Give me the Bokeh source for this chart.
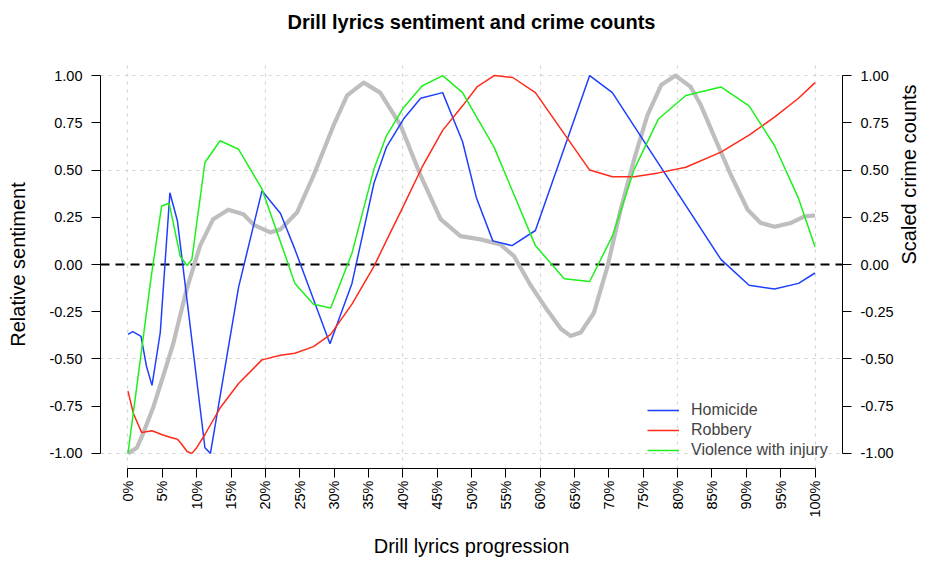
from math import pi
from bokeh.plotting import figure
from bokeh.models import Range1d, LinearAxis, FixedTicker, Grid, Span, Legend, LegendItem, Title
from bokeh.embed import file_html
from bokeh.resources import INLINE

# ---------------- data ----------------
sentiment_x = [0, 1.3, 2.2, 3.7, 5.1, 6.6, 8.55, 10.5, 12.4, 14.6, 16.8, 18.3, 20.7, 22.2,
               24.6, 27.0, 29.9, 31.9, 34.3, 36.7, 39.7, 42.6, 45.5, 48.4, 51.3, 54.2,
               56.2, 58.6, 61.0, 63.0, 64.4, 65.9, 67.8, 69.8, 71.7, 73.7, 75.6, 77.6,
               79.7, 81.9, 83.3, 85.3, 87.8, 90.2, 92.1, 94.1, 96.5, 98.4, 100]
sentiment_y = [-1.0, -0.97, -0.895, -0.754, -0.594, -0.417, -0.13, 0.10, 0.24, 0.29, 0.266,
               0.21, 0.17, 0.186, 0.275, 0.47, 0.735, 0.895, 0.963, 0.91, 0.735, 0.47,
               0.24, 0.15, 0.133, 0.106, 0.044, -0.11, -0.24, -0.34, -0.378, -0.36,
               -0.257, -0.01, 0.29, 0.56, 0.79, 0.95, 1.0, 0.94, 0.85, 0.68, 0.47, 0.29,
               0.22, 0.20, 0.22, 0.254, 0.26]

homicide_x = [0, 0.7, 1.9, 2.7, 3.5, 4.7, 6.1, 7.2, 11.2, 12.0, 16.1, 19.5, 22.2, 24.3,
              29.4, 32.6, 35.8, 37.6, 40.1, 42.6, 45.8, 48.7, 50.7, 53.1, 55.9, 59.3,
              67.2, 70.5, 86.3, 90.4, 94.1, 97.6, 100]
homicide_y = [-0.37, -0.355, -0.38, -0.54, -0.64, -0.36, 0.38, 0.23, -0.97, -1.0, -0.12,
              0.39, 0.27, 0.08, -0.42, -0.10, 0.43, 0.62, 0.77, 0.88, 0.91, 0.65, 0.355,
              0.125, 0.10, 0.18, 1.0, 0.91, 0.027, -0.11, -0.13, -0.10, -0.045]

robbery_x = [0, 0.8, 2.0, 3.5, 4.9, 6.1, 7.2, 7.8, 8.6, 9.3, 10.0, 11.2, 13.4, 16.1, 19.5,
             22.2, 24.3, 27.0, 29.5, 32.6, 35.8, 37.6, 40.1, 42.8, 45.8, 48.7, 50.8,
             53.3, 56.0, 59.3, 67.2, 70.5, 73.7, 77.2, 81.2, 86.3, 90.4, 94.1, 97.6, 100]
robbery_y = [-0.67, -0.79, -0.89, -0.88, -0.90, -0.915, -0.925, -0.95, -0.99, -1.0, -0.97,
             -0.90, -0.76, -0.63, -0.505, -0.48, -0.47, -0.435, -0.37, -0.21, -0.01,
             0.125, 0.31, 0.515, 0.71, 0.84, 0.94, 1.0, 0.99, 0.91, 0.50, 0.465, 0.465,
             0.485, 0.515, 0.595, 0.685, 0.78, 0.88, 0.963]

violence_x = [0, 3.4, 4.9, 6.0, 7.6, 8.6, 9.3, 11.2, 13.4, 16.1, 19.5, 24.3, 27.0, 29.5,
              32.6, 35.8, 37.6, 40.1, 42.8, 45.8, 48.7, 53.3, 59.3, 63.5, 67.2, 70.5,
              73.7, 77.2, 81.2, 86.3, 90.4, 94.1, 97.6, 100]
violence_y = [-1.0, -0.06, 0.31, 0.324, 0.044, -0.005, 0.027, 0.54, 0.655, 0.61, 0.40,
              -0.10, -0.21, -0.23, 0.06, 0.505, 0.68, 0.83, 0.945, 1.0, 0.91, 0.62, 0.10,
              -0.075, -0.09, 0.15, 0.505, 0.77, 0.895, 0.94, 0.84, 0.63, 0.35, 0.094]

x_tick_values = [0, 5, 10, 15, 20, 25, 30, 35, 40, 45, 50, 55, 60, 65, 70, 75, 80, 85, 90, 95, 100]
x_tick_labels = ["0%", "5%", "10%", "15%", "20%", "25%", "30%", "35%", "40%", "45%", "50%",
                 "55%", "60%", "65%", "70%", "75%", "80%", "85%", "90%", "95%", "100%"]
y_tick_values = [-1.0, -0.75, -0.5, -0.25, 0.0, 0.25, 0.5, 0.75, 1.0]
y_tick_labels = ["-1.00", "-0.75", "-0.50", "-0.25", "0.00", "0.25", "0.50", "0.75", "1.00"]
x_grid_values = [0, 20, 40, 60, 80, 100]
y_grid_values = [-1.0, -0.5, 0.5, 1.0]

series_names = ["Homicide", "Robbery", "Violence with injury"]
chart_title = "Drill lyrics sentiment and crime counts"

# ---------------- styling ----------------
FONT = "Liberation Sans"
BLUE, RED, GREEN, GREY = "#1f3fff", "#ff2a1a", "#1ef01e", "#bebebe"

p = figure(frame_width=742, frame_height=408,
           x_range=Range1d(-4, 104), y_range=Range1d(-1.08, 1.08),
           output_backend="svg", toolbar_location=None,
           min_border_left=100, min_border_right=0, min_border_top=60, min_border_bottom=0)
p.title_location = None
p.outline_line_color = None
p.background_fill_color = "white"
p.border_fill_color = "white"

# spacer (closest to the frame), then the visible title above it
p.add_layout(Title(text=" ", text_font_size="1px", standoff=25), "above")
p.add_layout(Title(text=chart_title, align="center", text_font=FONT, text_font_size="20px",
                   text_font_style="bold", text_color="black", standoff=0), "above")

p.xgrid.visible = False
p.ygrid.visible = False
p.add_layout(Grid(dimension=0, ticker=FixedTicker(ticks=x_grid_values),
                  grid_line_color="#d3d3d3", grid_line_dash="3 5", grid_line_width=1.2))
p.add_layout(Grid(dimension=1, ticker=FixedTicker(ticks=y_grid_values),
                  grid_line_color="#d3d3d3", grid_line_dash="3 5", grid_line_width=1.2))

def style_axis(ax):
    ax.axis_line_color = "black"
    ax.axis_line_width = 1
    ax.major_tick_line_color = "black"
    ax.major_tick_out = 9
    ax.major_tick_in = 0
    ax.minor_tick_out = 0
    ax.minor_tick_in = 0
    ax.major_label_text_font = FONT
    ax.major_label_text_font_size = "14.5px"
    ax.major_label_text_color = "black"
    ax.axis_label_text_font = FONT
    ax.axis_label_text_font_size = "20px"
    ax.axis_label_text_font_style = "normal"
    ax.axis_label_text_color = "black"

xax = p.xaxis[0]
xax.ticker = FixedTicker(ticks=x_tick_values)
xax.major_label_overrides = dict(zip(x_tick_values, x_tick_labels))
xax.major_label_orientation = pi / 2
xax.bounds = (x_tick_values[0], x_tick_values[-1])
xax.axis_label = "Drill lyrics progression"
style_axis(xax)
xax.major_label_standoff = 3
xax.axis_label_standoff = 14

yax = p.yaxis[0]
yax.ticker = FixedTicker(ticks=y_tick_values)
yax.major_label_overrides = dict(zip(y_tick_values, y_tick_labels))
yax.bounds = (y_tick_values[0], y_tick_values[-1])
yax.axis_label = "Relative sentiment"
style_axis(yax)
yax.major_label_standoff = 9
yax.axis_label_standoff = 17

rax = LinearAxis(ticker=FixedTicker(ticks=y_tick_values))
rax.major_label_overrides = dict(zip(y_tick_values, y_tick_labels))
rax.bounds = (y_tick_values[0], y_tick_values[-1])
rax.axis_label = "Scaled crime counts"
style_axis(rax)
rax.major_label_standoff = 9
rax.axis_label_standoff = 12
rax.axis_label_orientation = pi / 2
rax.axis_label_text_align = "center"
rax.axis_label_text_baseline = "top"
p.add_layout(rax, "right")

zero = Span(location=0, dimension="width", line_color="black", line_width=1.8,
            line_dash="9 6", level="underlay")
p.add_layout(zero)

p.line(sentiment_x, sentiment_y, line_color=GREY, line_width=4.2, line_join="round")
r1 = p.line(homicide_x, homicide_y, line_color=BLUE, line_width=1.5)
r2 = p.line(robbery_x, robbery_y, line_color=RED, line_width=1.5)
r3 = p.line(violence_x, violence_y, line_color=GREEN, line_width=1.5)

legend = Legend(items=[LegendItem(label=series_names[0], renderers=[r1]),
                       LegendItem(label=series_names[1], renderers=[r2]),
                       LegendItem(label=series_names[2], renderers=[r3])],
                location=(547, 8), orientation="vertical",
                glyph_width=32, glyph_height=20, label_height=20, label_standoff=12,
                spacing=0, padding=0, margin=0,
                label_text_font=FONT, label_text_font_size="16px",
                background_fill_alpha=0, border_line_alpha=0)
p.add_layout(legend)

open("out.html", "w").write(file_html(p, INLINE))
